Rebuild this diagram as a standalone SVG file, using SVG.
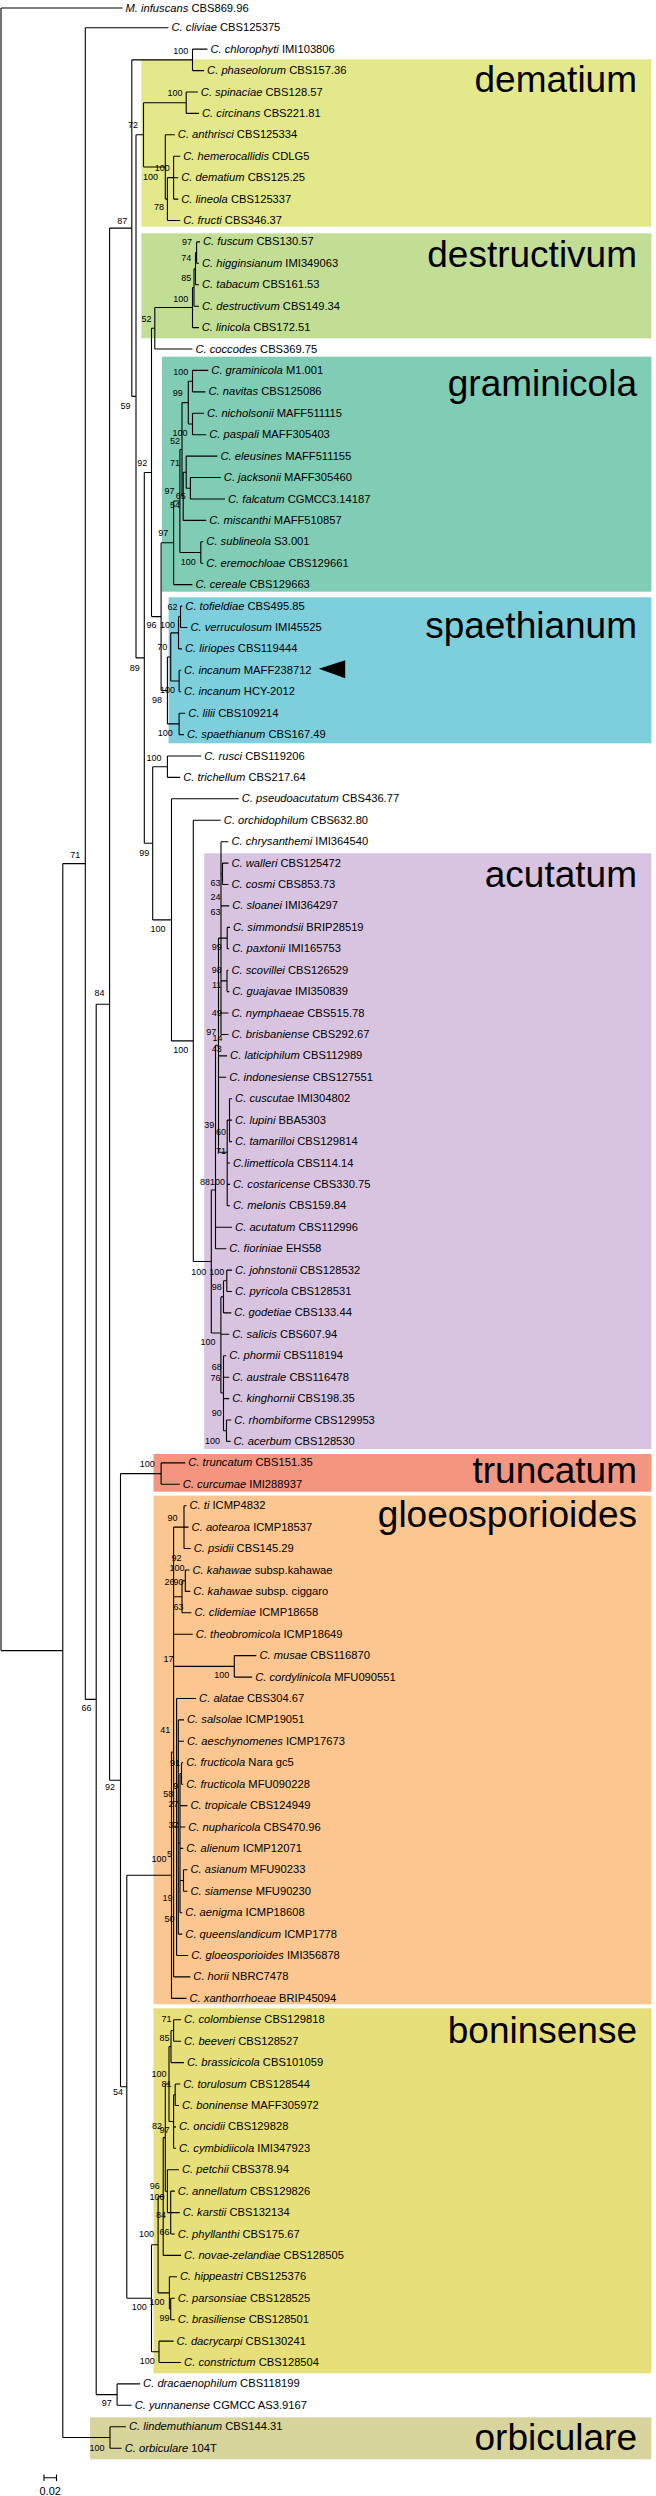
<svg xmlns="http://www.w3.org/2000/svg" width="656" height="2496" viewBox="0 0 656 2496">
<style>
.t{font-family:"Liberation Sans",Arial,sans-serif;font-size:11.2px;fill:#000}
.i{font-style:italic}
.b{font-family:"Liberation Sans",Arial,sans-serif;font-size:9px;fill:#000;text-anchor:middle}
.c{font-family:"Liberation Sans",Arial,sans-serif;font-size:37px;fill:#000;text-anchor:end}
.e{fill:none;stroke:#000;stroke-width:1.1}
</style>
<rect width="656" height="2496" fill="#fff"/>
<g id="clades">
<rect x="141.4" y="59.3" width="510" height="167.4" fill="#e3e88b"/>
<rect x="141.4" y="233.3" width="510" height="105" fill="#c2de95"/>
<rect x="161.9" y="356.7" width="489.5" height="235" fill="#80ccb4"/>
<rect x="168.6" y="597.3" width="482.8" height="146" fill="#7ecfdc"/>
<rect x="204.2" y="853.3" width="447.2" height="595.7" fill="#d8c4e0"/>
<rect x="153.5" y="1454" width="497.9" height="37.7" fill="#f4957f"/>
<rect x="153.5" y="1495.7" width="497.9" height="508.6" fill="#fbc690"/>
<rect x="153.5" y="2008.3" width="497.9" height="365" fill="#e7df7a"/>
<rect x="90" y="2417.3" width="561.4" height="42" fill="#d7d59c"/>
<text class="c" x="637" y="91.7">dematium</text>
<text class="c" x="637" y="266.7">destructivum</text>
<text class="c" x="637" y="396">graminicola</text>
<text class="c" x="637" y="638.3">spaethianum</text>
<text class="c" x="637" y="886.7">acutatum</text>
<text class="c" x="637" y="1483.3">truncatum</text>
<text class="c" x="637" y="1526.7">gloeosporioides</text>
<text class="c" x="637" y="2043.3">boninsense</text>
<text class="c" x="637" y="2450">orbiculare</text>
</g>
<g id="connectors" class="e">
<path d="M1 8V1650.6M1 8H122.5M1 1650.6H62.8"/>
<path d="M62.8 863.6V2437.5M62.8 863.6H85.3M62.8 2437.5H110"/>
<path d="M110 2426.8V2448.2M110 2426.8H125.9M110 2448.2H121.7"/>
<path d="M85.3 27.7V1699.4M85.3 27.7H168.5M85.3 1699.4H96.2"/>
<path d="M96.2 1004.2V2394.6M96.2 1004.2H109.6M96.2 2394.6H117.1"/>
<path d="M117.1 2383.9V2405.3M117.1 2383.9H140.1M117.1 2405.3H131.7"/>
<path d="M109.6 228.1V1780.2M109.6 228.1H131.8M109.6 1780.2H120.5"/>
<path d="M131.8 59.85V396.4M131.8 59.85H192.5M131.8 396.4H136"/>
<path d="M192.5 49.1V70.6M192.5 49.1H207.4M192.5 70.6H204.1"/>
<path d="M136 134.8V657.9M136 134.8H143.5M136 657.9H144.3"/>
<path d="M143.5 102.7V166.95M143.5 102.7H186.2M143.5 166.95H165.3"/>
<path d="M186.2 92V113.4M186.2 92H197.8M186.2 113.4H199"/>
<path d="M165.3 134.8V199.1M165.3 134.8H174.8M165.3 199.1H167.4"/>
<path d="M167.4 177.65V220.5M167.4 177.65H173.6M167.4 220.5H180.2"/>
<path d="M173.6 156.2V199.1M173.6 156.2H180.2M173.6 177.7H178.2M173.6 199.1H178.2"/>
<path d="M144.3 472.5V843.3M144.3 472.5H151.5M144.3 843.3H152.7"/>
<path d="M151.5 328.3V616.6M151.5 328.3H154.8M151.5 616.6H161.1"/>
<path d="M154.8 307.5V349M154.8 307.5H192.5M154.8 349H192.4"/>
<path d="M192.5 287.5V327.6M192.5 287.5H194M192.5 327.6H199"/>
<path d="M194 268.7V306.2M194 268.7H195.5M194 306.2H199"/>
<path d="M195.5 252.6V284.8M195.5 252.6H196.6M195.5 284.8H199"/>
<path d="M196.6 241.9V263.3M196.6 241.9H200M196.6 263.3H199"/>
<path d="M161.1 542.8V690.5M161.1 542.8H173.6M161.1 690.5H167.4"/>
<path d="M173.6 501V584.6M173.6 501H179.9M173.6 584.6H192.4"/>
<path d="M179.9 449.5V552.5M179.9 449.5H182M179.9 552.5H200.8"/>
<path d="M182 402.6V496.3M182 402.6H188.3M182 496.3H183.2"/>
<path d="M188.3 381.2V424M188.3 381.2H192.5M188.3 424H192.5"/>
<path d="M192.5 370.4V391.9M192.5 370.4H208.3M192.5 391.9H205.4"/>
<path d="M192.5 413.3V434.7M192.5 413.3H204.1M192.5 434.7H206.2"/>
<path d="M183.2 472.2V520.4M183.2 472.2H186.2M183.2 520.4H206.2"/>
<path d="M186.2 456.1V488.3M186.2 456.1H217.5M186.2 488.3H190.4"/>
<path d="M190.4 477.5V499M190.4 477.5H220.8M190.4 499H225"/>
<path d="M200.8 541.8V563.2M200.8 541.8H203.3M200.8 563.2H203.3"/>
<path d="M167.4 657V723.9M167.4 657H170.7M167.4 723.9H179.1"/>
<path d="M170.7 632.9V681M170.7 632.9H178.5M170.7 681H179.1"/>
<path d="M178.5 616.8V648.9M178.5 616.8H180.5M178.5 648.9H182"/>
<path d="M180.5 606.1V627.5M180.5 606.1H182.3M180.5 627.5H187.4"/>
<path d="M179.1 670.3V691.7M179.1 670.3H181.1M179.1 691.7H181.1"/>
<path d="M179.1 713.2V734.6M179.1 713.2H185.3M179.1 734.6H184"/>
<path d="M152.7 766.7V919.9M152.7 766.7H167.4M152.7 919.9H171.5"/>
<path d="M167.4 756V777.4M167.4 756H201.2M167.4 777.4H180.2"/>
<path d="M171.5 798.8V1040.9M171.5 798.8H238.8M171.5 1040.9H193.3"/>
<path d="M193.3 820.3V1261.5M193.3 820.3H220.8M193.3 1261.5H211.3"/>
<path d="M211.3 1190V1333M211.3 1190H215.5M211.3 1333H220.9"/>
<path d="M215.5 1045.2V1248.7M215.5 1045.2H218.5M215.5 1227.2H232.1M215.5 1248.7H226.3"/>
<path d="M218.5 938.1V1152.3M218.5 938.1H221M218.5 1055.9H227.1M218.5 1077.3H226.3M218.5 1152.3H227.2"/>
<path d="M221 841.7V1034.5M221 841.7H228.4M221 873.8H222.5M221 905.9H229.2M221 938.1H227.2M221 980.9H227M221 1013H228.4M221 1034.5H228.4"/>
<path d="M222.5 863.1V884.5M222.5 863.1H228.4M222.5 884.5H228.4"/>
<path d="M227.2 927.4V948.8M227.2 927.4H230M227.2 948.8H229.2"/>
<path d="M227 970.2V991.6M227 970.2H228.4M227 991.6H229.2"/>
<path d="M227.2 1120.1V1205.8M227.2 1120.1H229.5M227.2 1163H230M227.2 1184.4H230M227.2 1205.8H230"/>
<path d="M229.5 1098.7V1141.6M229.5 1098.7H232.1M229.5 1120.1H232.1M229.5 1141.6H232.1"/>
<path d="M220.9 1296.9V1393M220.9 1296.9H223.5M220.9 1334.3H229.2M220.9 1393H223.5"/>
<path d="M223.5 1280.8V1312.9M223.5 1280.8H226.8M223.5 1312.9H231.3"/>
<path d="M226.8 1270.1V1291.5M226.8 1270.1H232.1M226.8 1291.5H232.1"/>
<path d="M223.5 1355.8V1430.7M223.5 1355.8H226.3M223.5 1377.2H229.2M223.5 1398.6H229.2M223.5 1430.7H226.5"/>
<path d="M226.5 1420V1441.4M226.5 1420H231.3M226.5 1441.4H230.5"/>
<path d="M120.5 1473.6V2086.8M120.5 1473.6H161.1M120.5 2086.8H126.8"/>
<path d="M161.1 1462.9V1484.3M161.1 1462.9H185.3M161.1 1484.3H179.8"/>
<path d="M126.8 1875.2V2298.3M126.8 1875.2H171.5M126.8 2298.3H151.5"/>
<path d="M171.5 1752V1998.4M171.5 1752H173.6M171.5 1998.4H186.5"/>
<path d="M173.6 1527.1V1976.9M173.6 1527.1H184M173.6 1596.8H182M173.6 1634.2H192.8M173.6 1666.4H234.3M173.6 1827H176.6M173.6 1976.9H190.3"/>
<path d="M184 1505.7V1548.5M184 1505.7H186.5M184 1527.1H188.6M184 1548.5H190.7"/>
<path d="M182 1580.7V1612.8M182 1580.7H185.3M182 1612.8H191.5"/>
<path d="M185.3 1570V1591.4M185.3 1570H189.5M185.3 1591.4H190.3"/>
<path d="M234.3 1655.6V1677.1M234.3 1655.6H256.4M234.3 1677.1H252.2"/>
<path d="M176.6 1698.5V1955.5M176.6 1698.5H196.1M176.6 1827H178.3M176.6 1955.5H188.2"/>
<path d="M178.3 1719.9V1934.1M178.3 1719.9H184M178.3 1741.3H184M178.3 1843H180M178.3 1934.1H182.3"/>
<path d="M180 1773.5V1912.7M180 1773.5H181.5M180 1805.6H187.4M180 1827H185.3M180 1848.4H183.2M180 1880.5H183.5M180 1912.7H182.3"/>
<path d="M181.5 1762.7V1784.2M181.5 1762.7H183.2M181.5 1784.2H183.2"/>
<path d="M183.5 1869.8V1891.3M183.5 1869.8H187.4M183.5 1891.3H187.4"/>
<path d="M151.5 2244.7V2351.8M151.5 2244.7H158.1M151.5 2351.8H159"/>
<path d="M158.1 2196.5V2292.9M158.1 2196.5H163.2M158.1 2292.9H169.4"/>
<path d="M163.2 2137.6V2255.4M163.2 2137.6H165.3M163.2 2255.4H181.1"/>
<path d="M165.3 2084V2191.2M165.3 2084H169M165.3 2191.2H167.4"/>
<path d="M169 2046.5V2121.5M169 2046.5H171M169 2121.5H173.6"/>
<path d="M171 2030.5V2062.6M171 2030.5H173.6M171 2062.6H184"/>
<path d="M173.6 2019.8V2041.2M173.6 2019.8H181.1M173.6 2041.2H181.1"/>
<path d="M173.6 2094.7V2148.3M173.6 2094.7H175.2M173.6 2126.9H176M173.6 2148.3H176"/>
<path d="M175.2 2084V2105.5M175.2 2084H180.2M175.2 2105.5H179"/>
<path d="M167.4 2169.7V2212.6M167.4 2169.7H179M167.4 2212.6H170.7"/>
<path d="M170.7 2191.1V2234M170.7 2191.1H174.8M170.7 2212.6H179.8M170.7 2234H174.8"/>
<path d="M169.4 2276.8V2309M169.4 2276.8H176.9M169.4 2309H170.7"/>
<path d="M170.7 2298.2V2319.7M170.7 2298.2H174.8M170.7 2319.7H174.8"/>
<path d="M159 2341.1V2362.5M159 2341.1H173.6M159 2362.5H181.1"/>
</g>
<g id="leaves" class="t">
<g id="l1"><text x="125.5" y="11.5"><tspan class="i">M. infuscans</tspan> CBS869.96</text></g>
<g id="l2"><text x="171.5" y="31.2"><tspan class="i">C. cliviae</tspan> CBS125375</text></g>
<g id="l3"><text x="210.4" y="52.6"><tspan class="i">C. chlorophyti</tspan> IMI103806</text></g>
<g id="l4"><text x="207.1" y="74.1"><tspan class="i">C. phaseolorum</tspan> CBS157.36</text></g>
<g id="l5"><text x="200.8" y="95.5"><tspan class="i">C. spinaciae</tspan> CBS128.57</text></g>
<g id="l6"><text x="202" y="116.9"><tspan class="i">C. circinans</tspan> CBS221.81</text></g>
<g id="l7"><text x="177.8" y="138.3"><tspan class="i">C. anthrisci</tspan> CBS125334</text></g>
<g id="l8"><text x="183.2" y="159.7"><tspan class="i">C. hemerocallidis</tspan> CDLG5</text></g>
<g id="l9"><text x="181.2" y="181.2"><tspan class="i">C. dematium</tspan> CBS125.25</text></g>
<g id="l10"><text x="181.2" y="202.6"><tspan class="i">C. lineola</tspan> CBS125337</text></g>
<g id="l11"><text x="183.2" y="224"><tspan class="i">C. fructi</tspan> CBS346.37</text></g>
<g id="l12"><text x="203" y="245.4"><tspan class="i">C. fuscum</tspan> CBS130.57</text></g>
<g id="l13"><text x="202" y="266.8"><tspan class="i">C. higginsianum</tspan> IMI349063</text></g>
<g id="l14"><text x="202" y="288.3"><tspan class="i">C. tabacum</tspan> CBS161.53</text></g>
<g id="l15"><text x="202" y="309.7"><tspan class="i">C. destructivum</tspan> CBS149.34</text></g>
<g id="l16"><text x="201.7" y="331.1"><tspan class="i">C. linicola</tspan> CBS172.51</text></g>
<g id="l17"><text x="195.4" y="352.5"><tspan class="i">C. coccodes</tspan> CBS369.75</text></g>
<g id="l18"><text x="211.3" y="373.9"><tspan class="i">C. graminicola</tspan> M1.001</text></g>
<g id="l19"><text x="208.4" y="395.4"><tspan class="i">C. navitas</tspan> CBS125086</text></g>
<g id="l20"><text x="207.1" y="416.8"><tspan class="i">C. nicholsonii</tspan> MAFF511115</text></g>
<g id="l21"><text x="209.2" y="438.2"><tspan class="i">C. paspali</tspan> MAFF305403</text></g>
<g id="l22"><text x="220.5" y="459.6"><tspan class="i">C. eleusines</tspan> MAFF511155</text></g>
<g id="l23"><text x="223.8" y="481"><tspan class="i">C. jacksonii</tspan> MAFF305460</text></g>
<g id="l24"><text x="228" y="502.5"><tspan class="i">C. falcatum</tspan> CGMCC3.14187</text></g>
<g id="l25"><text x="209.2" y="523.9"><tspan class="i">C. miscanthi</tspan> MAFF510857</text></g>
<g id="l26"><text x="206.3" y="545.3"><tspan class="i">C. sublineola</tspan> S3.001</text></g>
<g id="l27"><text x="206.3" y="566.7"><tspan class="i">C. eremochloae</tspan> CBS129661</text></g>
<g id="l28"><text x="195.4" y="588.1"><tspan class="i">C. cereale</tspan> CBS129663</text></g>
<g id="l29"><text x="185.3" y="609.6"><tspan class="i">C. tofieldiae</tspan> CBS495.85</text></g>
<g id="l30"><text x="190.4" y="631"><tspan class="i">C. verruculosum</tspan> IMI45525</text></g>
<g id="l31"><text x="185" y="652.4"><tspan class="i">C. liriopes</tspan> CBS119444</text></g>
<g id="l32"><text x="184.1" y="673.8"><tspan class="i">C. incanum</tspan> MAFF238712</text></g>
<g id="l33"><text x="184.1" y="695.2"><tspan class="i">C. incanum</tspan> HCY-2012</text></g>
<g id="l34"><text x="188.3" y="716.7"><tspan class="i">C. lilii</tspan> CBS109214</text></g>
<g id="l35"><text x="187" y="738.1"><tspan class="i">C. spaethianum</tspan> CBS167.49</text></g>
<g id="l36"><text x="204.2" y="759.5"><tspan class="i">C. rusci</tspan> CBS119206</text></g>
<g id="l37"><text x="183.2" y="780.9"><tspan class="i">C. trichellum</tspan> CBS217.64</text></g>
<g id="l38"><text x="241.8" y="802.3"><tspan class="i">C. pseudoacutatum</tspan> CBS436.77</text></g>
<g id="l39"><text x="223.8" y="823.8"><tspan class="i">C. orchidophilum</tspan> CBS632.80</text></g>
<g id="l40"><text x="231.4" y="845.2"><tspan class="i">C. chrysanthemi</tspan> IMI364540</text></g>
<g id="l41"><text x="231.4" y="866.6"><tspan class="i">C. walleri</tspan> CBS125472</text></g>
<g id="l42"><text x="231.4" y="888"><tspan class="i">C. cosmi</tspan> CBS853.73</text></g>
<g id="l43"><text x="232.2" y="909.4"><tspan class="i">C. sloanei</tspan> IMI364297</text></g>
<g id="l44"><text x="233" y="930.9"><tspan class="i">C. simmondsii</tspan> BRIP28519</text></g>
<g id="l45"><text x="232.2" y="952.3"><tspan class="i">C. paxtonii</tspan> IMI165753</text></g>
<g id="l46"><text x="231.4" y="973.7"><tspan class="i">C. scovillei</tspan> CBS126529</text></g>
<g id="l47"><text x="232.2" y="995.1"><tspan class="i">C. guajavae</tspan> IMI350839</text></g>
<g id="l48"><text x="231.4" y="1016.5"><tspan class="i">C. nymphaeae</tspan> CBS515.78</text></g>
<g id="l49"><text x="231.4" y="1038"><tspan class="i">C. brisbaniense</tspan> CBS292.67</text></g>
<g id="l50"><text x="230.1" y="1059.4"><tspan class="i">C. laticiphilum</tspan> CBS112989</text></g>
<g id="l51"><text x="229.3" y="1080.8"><tspan class="i">C. indonesiense</tspan> CBS127551</text></g>
<g id="l52"><text x="235.1" y="1102.2"><tspan class="i">C. cuscutae</tspan> IMI304802</text></g>
<g id="l53"><text x="235.1" y="1123.6"><tspan class="i">C. lupini</tspan> BBA5303</text></g>
<g id="l54"><text x="235.1" y="1145.1"><tspan class="i">C. tamarilloi</tspan> CBS129814</text></g>
<g id="l55"><text x="233" y="1166.5"><tspan class="i">C.limetticola</tspan> CBS114.14</text></g>
<g id="l56"><text x="233" y="1187.9"><tspan class="i">C. costaricense</tspan> CBS330.75</text></g>
<g id="l57"><text x="233" y="1209.3"><tspan class="i">C. melonis</tspan> CBS159.84</text></g>
<g id="l58"><text x="235.1" y="1230.7"><tspan class="i">C. acutatum</tspan> CBS112996</text></g>
<g id="l59"><text x="229.3" y="1252.2"><tspan class="i">C. fioriniae</tspan> EHS58</text></g>
<g id="l60"><text x="235.1" y="1273.6"><tspan class="i">C. johnstonii</tspan> CBS128532</text></g>
<g id="l61"><text x="235.1" y="1295"><tspan class="i">C. pyricola</tspan> CBS128531</text></g>
<g id="l62"><text x="234.3" y="1316.4"><tspan class="i">C. godetiae</tspan> CBS133.44</text></g>
<g id="l63"><text x="232.2" y="1337.8"><tspan class="i">C. salicis</tspan> CBS607.94</text></g>
<g id="l64"><text x="229.3" y="1359.3"><tspan class="i">C. phormii</tspan> CBS118194</text></g>
<g id="l65"><text x="232.2" y="1380.7"><tspan class="i">C. australe</tspan> CBS116478</text></g>
<g id="l66"><text x="232.2" y="1402.1"><tspan class="i">C. kinghornii</tspan> CBS198.35</text></g>
<g id="l67"><text x="234.3" y="1423.5"><tspan class="i">C. rhombiforme</tspan> CBS129953</text></g>
<g id="l68"><text x="233.5" y="1444.9"><tspan class="i">C. acerbum</tspan> CBS128530</text></g>
<g id="l69"><text x="188.3" y="1466.4"><tspan class="i">C. truncatum</tspan> CBS151.35</text></g>
<g id="l70"><text x="182.8" y="1487.8"><tspan class="i">C. curcumae</tspan> IMI288937</text></g>
<g id="l71"><text x="189.5" y="1509.2"><tspan class="i">C. ti</tspan> ICMP4832</text></g>
<g id="l72"><text x="191.6" y="1530.6"><tspan class="i">C. aotearoa</tspan> ICMP18537</text></g>
<g id="l73"><text x="193.7" y="1552"><tspan class="i">C. psidii</tspan> CBS145.29</text></g>
<g id="l74"><text x="192.5" y="1573.5"><tspan class="i">C. kahawae</tspan> subsp.kahawae</text></g>
<g id="l75"><text x="193.3" y="1594.9"><tspan class="i">C. kahawae</tspan> subsp. ciggaro</text></g>
<g id="l76"><text x="194.5" y="1616.3"><tspan class="i">C. clidemiae</tspan> ICMP18658</text></g>
<g id="l77"><text x="195.8" y="1637.7"><tspan class="i">C. theobromicola</tspan> ICMP18649</text></g>
<g id="l78"><text x="259.4" y="1659.1"><tspan class="i">C. musae</tspan> CBS116870</text></g>
<g id="l79"><text x="255.2" y="1680.6"><tspan class="i">C. cordylinicola</tspan> MFU090551</text></g>
<g id="l80"><text x="199.1" y="1702"><tspan class="i">C. alatae</tspan> CBS304.67</text></g>
<g id="l81"><text x="187" y="1723.4"><tspan class="i">C. salsolae</tspan> ICMP19051</text></g>
<g id="l82"><text x="187" y="1744.8"><tspan class="i">C. aeschynomenes</tspan> ICMP17673</text></g>
<g id="l83"><text x="186.2" y="1766.2"><tspan class="i">C. fructicola</tspan> Nara gc5</text></g>
<g id="l84"><text x="186.2" y="1787.7"><tspan class="i">C. fructicola</tspan> MFU090228</text></g>
<g id="l85"><text x="190.4" y="1809.1"><tspan class="i">C. tropicale</tspan> CBS124949</text></g>
<g id="l86"><text x="188.3" y="1830.5"><tspan class="i">C. nupharicola</tspan> CBS470.96</text></g>
<g id="l87"><text x="186.2" y="1851.9"><tspan class="i">C. alienum</tspan> ICMP12071</text></g>
<g id="l88"><text x="190.4" y="1873.3"><tspan class="i">C. asianum</tspan> MFU90233</text></g>
<g id="l89"><text x="190.4" y="1894.8"><tspan class="i">C. siamense</tspan> MFU90230</text></g>
<g id="l90"><text x="185.3" y="1916.2"><tspan class="i">C. aenigma</tspan> ICMP18608</text></g>
<g id="l91"><text x="185.3" y="1937.6"><tspan class="i">C. queenslandicum</tspan> ICMP1778</text></g>
<g id="l92"><text x="191.2" y="1959"><tspan class="i">C. gloeosporioides</tspan> IMI356878</text></g>
<g id="l93"><text x="193.3" y="1980.4"><tspan class="i">C. horii</tspan> NBRC7478</text></g>
<g id="l94"><text x="189.5" y="2001.9"><tspan class="i">C. xanthorrhoeae</tspan> BRIP45094</text></g>
<g id="l95"><text x="184.1" y="2023.3"><tspan class="i">C. colombiense</tspan> CBS129818</text></g>
<g id="l96"><text x="184.1" y="2044.7"><tspan class="i">C. beeveri</tspan> CBS128527</text></g>
<g id="l97"><text x="187" y="2066.1"><tspan class="i">C. brassicicola</tspan> CBS101059</text></g>
<g id="l98"><text x="183.2" y="2087.5"><tspan class="i">C. torulosum</tspan> CBS128544</text></g>
<g id="l99"><text x="182" y="2109"><tspan class="i">C. boninense</tspan> MAFF305972</text></g>
<g id="l100"><text x="179" y="2130.4"><tspan class="i">C. oncidii</tspan> CBS129828</text></g>
<g id="l101"><text x="179" y="2151.8"><tspan class="i">C. cymbidiicola</tspan> IMI347923</text></g>
<g id="l102"><text x="182" y="2173.2"><tspan class="i">C. petchii</tspan> CBS378.94</text></g>
<g id="l103"><text x="177.8" y="2194.6"><tspan class="i">C. annellatum</tspan> CBS129826</text></g>
<g id="l104"><text x="182.8" y="2216.1"><tspan class="i">C. karstii</tspan> CBS132134</text></g>
<g id="l105"><text x="177.8" y="2237.5"><tspan class="i">C. phyllanthi</tspan> CBS175.67</text></g>
<g id="l106"><text x="184.1" y="2258.9"><tspan class="i">C. novae-zelandiae</tspan> CBS128505</text></g>
<g id="l107"><text x="179.9" y="2280.3"><tspan class="i">C. hippeastri</tspan> CBS125376</text></g>
<g id="l108"><text x="177.8" y="2301.7"><tspan class="i">C. parsonsiae</tspan> CBS128525</text></g>
<g id="l109"><text x="177.8" y="2323.2"><tspan class="i">C. brasiliense</tspan> CBS128501</text></g>
<g id="l110"><text x="176.6" y="2344.6"><tspan class="i">C. dacrycarpi</tspan> CBS130241</text></g>
<g id="l111"><text x="184.1" y="2366"><tspan class="i">C. constrictum</tspan> CBS128504</text></g>
<g id="l112"><text x="143.1" y="2387.4"><tspan class="i">C. dracaenophilum</tspan> CBS118199</text></g>
<g id="l113"><text x="134.7" y="2408.8"><tspan class="i">C. yunnanense</tspan> CGMCC AS3.9167</text></g>
<g id="l114"><text x="128.9" y="2430.3"><tspan class="i">C. lindemuthianum</tspan> CBS144.31</text></g>
<g id="l115"><text x="124.7" y="2451.7"><tspan class="i">C. orbiculare</tspan> 104T</text></g>
</g>
<g id="support" class="b">
<text x="180.7" y="53.7">100</text><text x="174.9" y="96.3">100</text><text x="133" y="128.3">72</text><text x="162.3" y="171.3">100</text><text x="150.6" y="179.7">100</text><text x="159" y="209.7">78</text>
<text x="122.2" y="224">87</text><text x="187" y="244.7">97</text><text x="186.2" y="261.3">74</text><text x="186.2" y="281.3">85</text><text x="180.7" y="302">100</text><text x="146.4" y="322.3">52</text><text x="180.7" y="374.7">100</text><text x="177.8" y="396.3">99</text><text x="125.5" y="408.7">59</text>
<text x="179.9" y="436.3">100</text><text x="174.9" y="443.7">52</text><text x="142.2" y="465.7">92</text><text x="174.9" y="465.7">71</text><text x="169.4" y="494">97</text><text x="180.7" y="499">65</text><text x="174.9" y="508">54</text><text x="163.2" y="536.3">97</text><text x="188.3" y="564.7">100</text><text x="172.4" y="610.3">62</text>
<text x="151.5" y="628">96</text><text x="167.4" y="628">100</text><text x="162.3" y="650.3">70</text><text x="134.7" y="671.3">89</text><text x="167.4" y="693">100</text><text x="156.9" y="703">98</text><text x="165.3" y="735.7">100</text><text x="154" y="760.7">100</text>
<text x="75.3" y="858">71</text><text x="144.3" y="856.3">99</text><text x="158.1" y="932">100</text><text x="99.6" y="996.3">84</text><text x="215.5" y="886.3">63</text><text x="215.5" y="900.3">24</text><text x="215.5" y="914.7">63</text><text x="216.7" y="950.3">99</text><text x="216.7" y="973">98</text><text x="216.7" y="988">11</text><text x="216.7" y="1016.3">49</text>
<text x="211.3" y="1034.7">97</text><text x="217.6" y="1041.3">14</text><text x="180.7" y="1053">100</text><text x="216.7" y="1052">43</text><text x="209.2" y="1128">39</text><text x="220.9" y="1134.7">60</text><text x="220.9" y="1154">71</text><text x="205" y="1184.7">88</text><text x="217.6" y="1184.7">100</text>
<text x="198.7" y="1274.7">100</text><text x="216.7" y="1274.7">100</text><text x="216.7" y="1290.3">98</text><text x="207.9" y="1345.3">100</text><text x="216.7" y="1369.7">68</text><text x="215.5" y="1380.7">76</text><text x="216.7" y="1415.7">90</text>
<text x="212.5" y="1444">100</text><text x="147.3" y="1467.3">100</text><text x="172.4" y="1521.3">90</text><text x="176.6" y="1561.3">92</text><text x="177" y="1571.3">100</text><text x="169.4" y="1584.7">26</text><text x="178.6" y="1584.7">90</text><text x="178.6" y="1609.7">63</text>
<text x="168.6" y="1662.3">17</text><text x="221.7" y="1678">100</text><text x="86.6" y="1711.3">66</text><text x="165.3" y="1733">41</text><text x="174.9" y="1766.3">91</text><text x="110" y="1789.7">92</text><text x="175.7" y="1788.7">9</text><text x="168.2" y="1797.3">58</text><text x="173.6" y="1807">27</text><text x="173.6" y="1828">37</text>
<text x="159" y="1862">100</text><text x="169.4" y="1857.3">5</text><text x="167.4" y="1901.3">19</text><text x="169.4" y="1922">50</text>
<text x="166.5" y="2022">71</text><text x="164.4" y="2040.7">85</text><text x="159" y="2077">100</text><text x="118" y="2094.7">54</text><text x="166.5" y="2087.3">81</text><text x="156.9" y="2129">82</text><text x="164.4" y="2133">97</text><text x="154.8" y="2189">96</text><text x="156.9" y="2199.7">100</text><text x="161.1" y="2218">84</text><text x="164.4" y="2235.3">66</text><text x="146.4" y="2237">100</text>
<text x="139.3" y="2309.7">100</text><text x="156.9" y="2304.7">100</text><text x="164.4" y="2320.7">99</text><text x="147.3" y="2363.7">100</text><text x="106.7" y="2406">97</text><text x="97.1" y="2450.7">100</text>
</g>
<polygon id="arrow" points="318.8,668.7 345.2,660.3 345.2,678.3" fill="#000"/>
<g id="scalebar">
<path class="e" d="M44 2477.7H56.5M44 2474.5V2481M56.5 2474.5V2481"/>
<text x="50.2" y="2494.5" font-family="Liberation Sans, Arial, sans-serif" font-size="11" text-anchor="middle">0.02</text>
</g>
</svg>
